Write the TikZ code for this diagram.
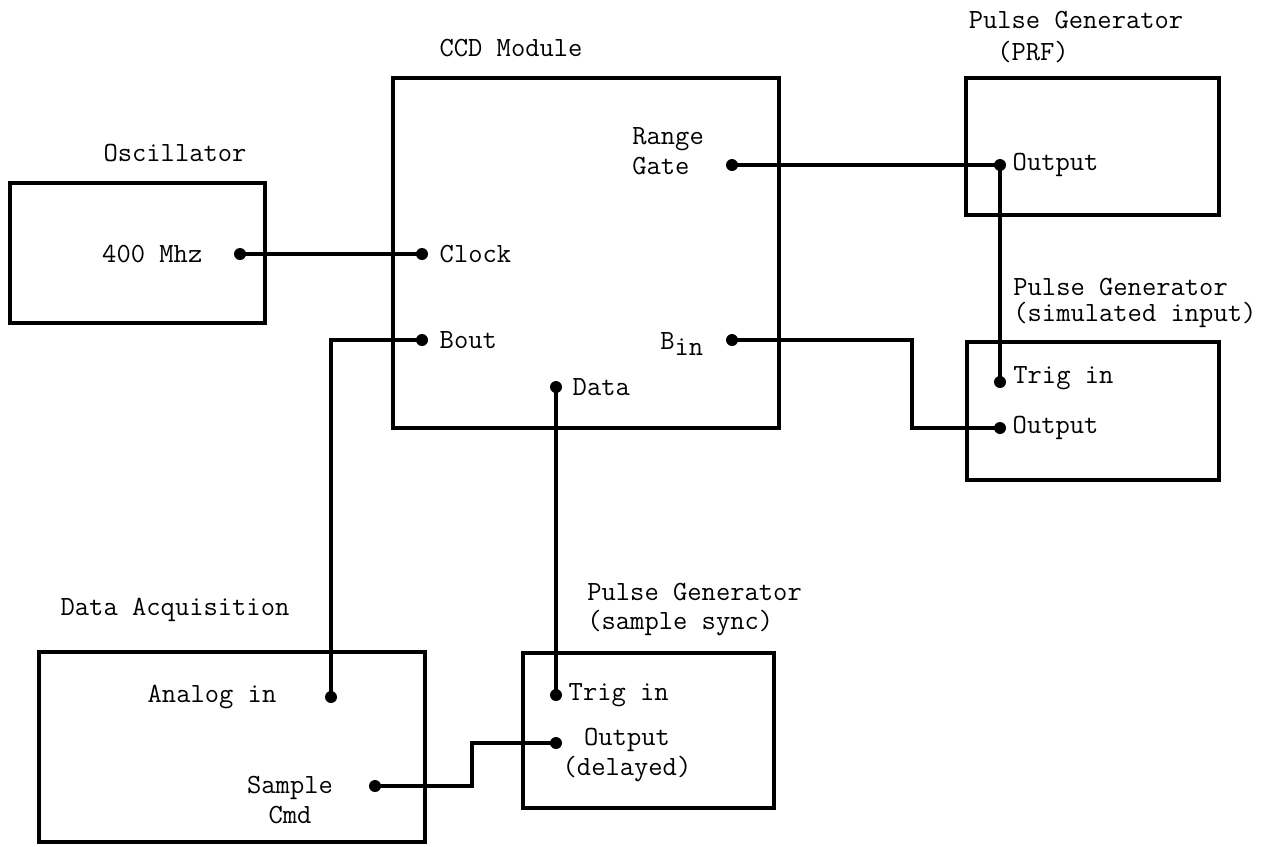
\documentclass[tikz,border=0pt]{standalone}
\usetikzlibrary{positioning}
\tikzset{
  unit/.style={draw, line width=2pt, rectangle, inner sep=0pt},
  port/.style={circle, fill, inner sep=0pt, minimum size=0.24cm},
  wire/.style={line width=2pt, line join=miter},
  lbl/.style={font=\ttfamily\fontsize{15.8}{17}\selectfont, inner sep=0pt}
}
\begin{document}
\begin{tikzpicture}[x=0.02cm, y=-0.02cm]
  \useasboundingbox (0,0) rectangle (1264,846);

  % Boxes (centres in pixel units of the sheet)
  \node[unit, minimum width=5.1cm, minimum height=2.8cm] (osc) at (137.5,253) {};
  \node[unit, minimum width=7.72cm, minimum height=7.0cm] (ccd) at (586,253) {};
  \node[unit, minimum width=5.06cm, minimum height=2.74cm] (prf) at (1092.5,146.5) {};
  \node[unit, minimum width=5.04cm, minimum height=2.76cm] (sim) at (1093,411) {};
  \node[unit, minimum width=7.72cm, minimum height=3.8cm] (daq) at (232,747) {};
  \node[unit, minimum width=5.02cm, minimum height=3.1cm] (sync) at (648.5,730.5) {};

  % Box titles
  \node[lbl] at (175,153) {Oscillator};
  \node[lbl] at (511,48) {CCD Module};
  \node[lbl] at (1076,20) {Pulse Generator};
  \node[lbl] at (1033,52) {(PRF)};
  \node[lbl, anchor=west] at (1013,287) {Pulse Generator};
  \node[lbl, anchor=west] at (1013,315) {(simulated input)};
  \node[lbl] at (175,610) {Data Acquisition};
  \node[lbl, anchor=west] at (587,592) {Pulse Generator};
  \node[lbl, anchor=west] at (587,623) {(sample sync)};

  % Terminals
  \node[port] (oscout) at (240,254) {};
  \node[port] (clk) at (422,254) {};
  \node[port] (rg) at (732,165) {};
  \node[port] (bout) at (422,340) {};
  \node[port] (bin) at (732,340) {};
  \node[port] (data) at (556,387) {};
  \node[port] (prfout) at (1000,165) {};
  \node[port] (simtrig) at (1000,382) {};
  \node[port] (simout) at (1000,428) {};
  \node[port] (ain) at (331,697) {};
  \node[port] (scmd) at (375,786) {};
  \node[port] (synctrig) at (556,695) {};
  \node[port] (syncout) at (556,743) {};

  % Terminal labels
  \node[lbl, left=0.62cm of oscout] {400 Mhz};
  \node[lbl, right=0.22cm of clk] {Clock};
  \node[lbl, right=0.22cm of bout] {Bout};
  \node[lbl, anchor=base west] at (660,349) {B\raisebox{-0.55ex}{in}};
  \node[lbl, right=0.2cm of data] {Data};
  \node[lbl, anchor=west, align=left] at (632,151) {Range\\Gate};
  \node[lbl, right=0.12cm of prfout] {Output};
  \node[lbl, anchor=west] at (1013,378) {Trig in};
  \node[lbl, right=0.12cm of simout] {Output};
  \node[lbl] at (212,697) {Analog in};
  \node[lbl, align=center] at (290,800) {Sample\\Cmd};
  \node[lbl, right=0.12cm of synctrig] {Trig in};
  \node[lbl, align=center] at (627,755) {Output\\(delayed)};

  % Wiring
  \draw[wire] (oscout.center) -- (clk.center);
  \draw[wire] (rg.center) -- (prfout.center);
  \draw[wire] (prfout.center) -- (simtrig.center);
  \draw[wire] (bin.center) -- ++(180,0) |- (simout.center);
  \draw[wire] (data.center) -- (synctrig.center);
  \draw[wire] (ain.center) |- (bout.center);
  \draw[wire] (scmd.center) -- ++(97,0) |- (syncout.center);
\end{tikzpicture}
\end{document}
